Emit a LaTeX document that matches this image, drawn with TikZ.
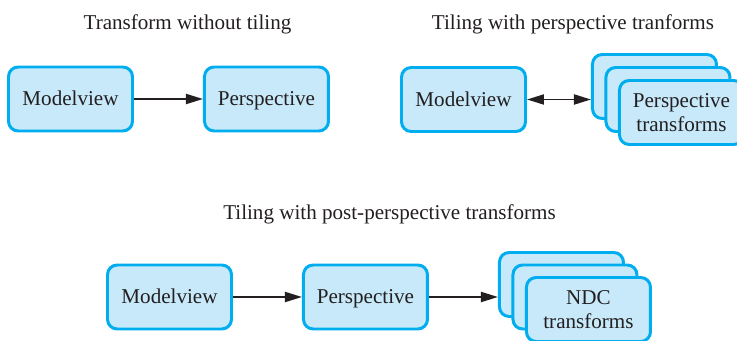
\documentclass[tikz,border=0pt]{standalone}
\usepackage{fontspec}
\setmainfont{LiberationSerif}[Extension=.ttf, UprightFont=*-Regular]
\definecolor{boxcyan}{RGB}{0,174,239}
\definecolor{boxfill}{RGB}{199,233,249}
\definecolor{inkdark}{RGB}{35,31,32}
\usetikzlibrary{arrows.meta,positioning}

\begin{document}
\begin{tikzpicture}[
      xf/.style={draw=boxcyan, fill=boxfill, line width=1.7pt,
                 rounded corners=5.5pt,
                 minimum width=2.48cm, minimum height=1.28cm,
                 text=inkdark, font=\fontsize{12}{13.7}\selectfont,
                 align=center},
      one/.style={text height=7.9pt, text depth=0pt},
      ttl/.style={anchor=base, text=inkdark,
                  font=\fontsize{12}{14}\selectfont},
      arr/.style={-{Triangle[length=0.34cm,width=0.2cm]}, line width=1.1pt,
                  color=inkdark},
      darr/.style={{Triangle[length=0.34cm,width=0.2cm]}-{Triangle[length=0.34cm,width=0.2cm]},
                   line width=1.1pt, color=inkdark}
  ]
    \useasboundingbox (0,0) rectangle (14.74,-6.82);
    \clip (0,0) rectangle (14.74,-6.82);

    % titles
    \node[ttl] (t1) at (3.75,-0.60) {Transform without tiling};
    \node[ttl] (t2) at (11.46,-0.60) {Tiling with perspective tranforms};
    \node[ttl] (t3) at (7.79,-4.40) {Tiling with post-perspective transforms};

    % without tiling
    \node[xf, one] (mv1) at (1.41,-1.98) {Modelview};
    \node[xf, one, right=1.38cm of mv1] (pp1) {Perspective};
    \draw[arr] (mv1) -- (pp1);

    % perspective tiling
    \node[xf, one] (mv2) at (9.27,-1.99) {Modelview};
    \node[xf, right=1.28cm of mv2, yshift=0.26cm] (ps1) {};
    \node[xf] (ps2) at ([shift={(0.27,-0.26)}]ps1) {};
    \node[xf] (ps3) at ([shift={(0.27,-0.26)}]ps2) {Perspective\\ transforms};
    \draw[darr] (mv2.east) -- (mv2.east -| ps1.west);

    % post-perspective tiling
    \node[xf, one] (mv3) at (3.39,-5.94) {Modelview};
    \node[xf, one, right=1.38cm of mv3] (pp3) {Perspective};
    \node[xf, right=1.38cm of pp3, yshift=0.25cm] (nd1) {};
    \node[xf] (nd2) at ([shift={(0.27,-0.25)}]nd1) {};
    \node[xf] (nd3) at ([shift={(0.27,-0.25)}]nd2) {NDC\\ transforms};
    \draw[arr] (mv3) -- (pp3);
    \draw[arr] (pp3.east) -- (pp3.east -| nd1.west);
  \end{tikzpicture}
\end{document}
